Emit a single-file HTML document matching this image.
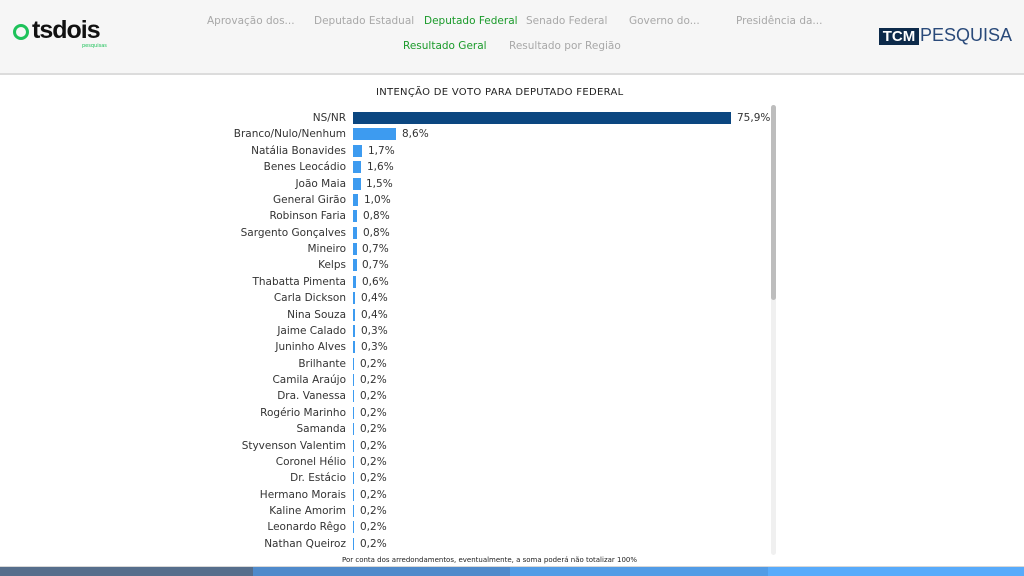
<!DOCTYPE html>
<html><head><meta charset="utf-8"><style>
body{margin:0;width:1024px;height:576px;overflow:hidden;background:#fff;font-family:"DejaVu Sans","Liberation Sans",sans-serif;position:relative}
.hdr{position:absolute;left:0;top:0;width:1024px;height:73px;background:#f6f6f6;border-bottom:2px solid #dcdcdc}
.nav{position:absolute;font-size:10.5px;color:#a8a8a8;white-space:nowrap}
.nav.g{color:#1a9a2a}
.title{position:absolute;left:376px;top:87px;font-size:10px;color:#222;letter-spacing:0.3px}
.rows{position:absolute;left:0;top:110px;width:780px}
.r{position:relative;height:16.38px}
.n{position:absolute;right:434px;top:2px;font-size:10.5px;color:#333;white-space:nowrap}
.b{position:absolute;left:353px;top:2px;height:12px;background:#3d9bf0}
.v{position:absolute;top:2px;font-size:10.5px;color:#333}
.sb{position:absolute;left:771px;top:105px;width:5px;height:450px;background:#f0f0f0;border-radius:3px}
.sbt{position:absolute;left:771px;top:105px;width:5px;height:195px;background:#bdbdbd;border-radius:3px}
.foot{position:absolute;left:342px;top:556px;font-size:7px;color:#222}
.bot{position:absolute;top:567px;height:9px}
</style></head><body>
<div class="hdr"></div>
<div style="position:absolute;left:13px;top:24px;width:16px;height:16px;border-radius:50%;border:3px solid #1ec25a;box-sizing:border-box"></div>
<div style="position:absolute;left:32px;top:16px;font-size:25px;font-weight:bold;color:#111;letter-spacing:-1px;font-family:'Liberation Sans',sans-serif">tsdois</div>
<div style="position:absolute;left:82px;top:43px;font-size:5px;color:#1ec25a">pesquisas</div>
<div class="nav" style="left:207px;top:15px">Aprovação dos...</div>
<div class="nav" style="left:314px;top:15px">Deputado Estadual</div>
<div class="nav g" style="left:424px;top:15px">Deputado Federal</div>
<div class="nav" style="left:526px;top:15px">Senado Federal</div>
<div class="nav" style="left:629px;top:15px">Governo do...</div>
<div class="nav" style="left:736px;top:15px">Presidência da...</div>
<div class="nav g" style="left:403px;top:40px">Resultado Geral</div>
<div class="nav" style="left:509px;top:40px">Resultado por Região</div>
<div style="position:absolute;left:879px;top:28px;width:40px;height:17px;background:#0d2a4a;color:#fff;font-weight:bold;font-size:15px;line-height:17px;text-align:center;font-family:'Liberation Sans',sans-serif">TCM</div>
<div style="position:absolute;left:920px;top:25px;font-size:18px;color:#2a4a7a;font-family:'Liberation Sans',sans-serif">PESQUISA</div>
<div class="title">INTENÇÃO DE VOTO PARA DEPUTADO FEDERAL</div>
<div class="rows">
<div class="r"><span class="n">NS/NR</span><span class="b" style="width:378px;background:#0b4680"></span><span class="v" style="left:737px">75,9%</span></div>
<div class="r"><span class="n">Branco/Nulo/Nenhum</span><span class="b" style="width:43px"></span><span class="v" style="left:402px">8,6%</span></div>
<div class="r"><span class="n">Natália Bonavides</span><span class="b" style="width:8.5px"></span><span class="v" style="left:368px">1,7%</span></div>
<div class="r"><span class="n">Benes Leocádio</span><span class="b" style="width:8px"></span><span class="v" style="left:367px">1,6%</span></div>
<div class="r"><span class="n">João Maia</span><span class="b" style="width:7.5px"></span><span class="v" style="left:366px">1,5%</span></div>
<div class="r"><span class="n">General Girão</span><span class="b" style="width:5px"></span><span class="v" style="left:364px">1,0%</span></div>
<div class="r"><span class="n">Robinson Faria</span><span class="b" style="width:4px"></span><span class="v" style="left:363px">0,8%</span></div>
<div class="r"><span class="n">Sargento Gonçalves</span><span class="b" style="width:4px"></span><span class="v" style="left:363px">0,8%</span></div>
<div class="r"><span class="n">Mineiro</span><span class="b" style="width:3.5px"></span><span class="v" style="left:362px">0,7%</span></div>
<div class="r"><span class="n">Kelps</span><span class="b" style="width:3.5px"></span><span class="v" style="left:362px">0,7%</span></div>
<div class="r"><span class="n">Thabatta Pimenta</span><span class="b" style="width:3px"></span><span class="v" style="left:362px">0,6%</span></div>
<div class="r"><span class="n">Carla Dickson</span><span class="b" style="width:2px"></span><span class="v" style="left:361px">0,4%</span></div>
<div class="r"><span class="n">Nina Souza</span><span class="b" style="width:2px"></span><span class="v" style="left:361px">0,4%</span></div>
<div class="r"><span class="n">Jaime Calado</span><span class="b" style="width:1.5px"></span><span class="v" style="left:361px">0,3%</span></div>
<div class="r"><span class="n">Juninho Alves</span><span class="b" style="width:1.5px"></span><span class="v" style="left:361px">0,3%</span></div>
<div class="r"><span class="n">Brilhante</span><span class="b" style="width:1px"></span><span class="v" style="left:360px">0,2%</span></div>
<div class="r"><span class="n">Camila Araújo</span><span class="b" style="width:1px"></span><span class="v" style="left:360px">0,2%</span></div>
<div class="r"><span class="n">Dra. Vanessa</span><span class="b" style="width:1px"></span><span class="v" style="left:360px">0,2%</span></div>
<div class="r"><span class="n">Rogério Marinho</span><span class="b" style="width:1px"></span><span class="v" style="left:360px">0,2%</span></div>
<div class="r"><span class="n">Samanda</span><span class="b" style="width:1px"></span><span class="v" style="left:360px">0,2%</span></div>
<div class="r"><span class="n">Styvenson Valentim</span><span class="b" style="width:1px"></span><span class="v" style="left:360px">0,2%</span></div>
<div class="r"><span class="n">Coronel Hélio</span><span class="b" style="width:1px"></span><span class="v" style="left:360px">0,2%</span></div>
<div class="r"><span class="n">Dr. Estácio</span><span class="b" style="width:1px"></span><span class="v" style="left:360px">0,2%</span></div>
<div class="r"><span class="n">Hermano Morais</span><span class="b" style="width:1px"></span><span class="v" style="left:360px">0,2%</span></div>
<div class="r"><span class="n">Kaline Amorim</span><span class="b" style="width:1px"></span><span class="v" style="left:360px">0,2%</span></div>
<div class="r"><span class="n">Leonardo Rêgo</span><span class="b" style="width:1px"></span><span class="v" style="left:360px">0,2%</span></div>
<div class="r"><span class="n">Nathan Queiroz</span><span class="b" style="width:1px"></span><span class="v" style="left:360px">0,2%</span></div>
</div>
<div class="sb"></div><div class="sbt"></div>
<div class="foot">Por conta dos arredondamentos, eventualmente, a soma poderá não totalizar 100%</div>
<div style="position:absolute;left:0;top:566px;width:1024px;height:1px;background:#d8d8d8"></div>
<div class="bot" style="left:0;width:253px;background:#566e8c"></div>
<div class="bot" style="left:253px;width:257px;background:#4f8acb"></div>
<div class="bot" style="left:510px;width:258px;background:#529ce6"></div>
<div class="bot" style="left:768px;width:256px;background:#58abfb"></div>
</body></html>
